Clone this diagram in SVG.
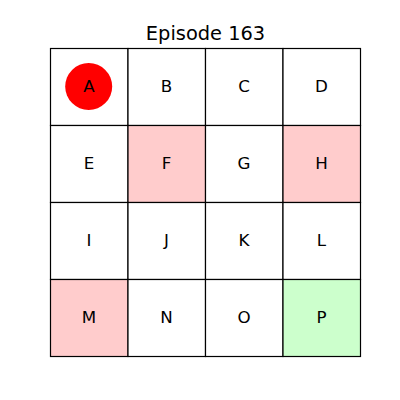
<svg xmlns="http://www.w3.org/2000/svg" width="400" height="400" viewBox="0 0 400 400">
<style>
.cell{stroke:#000;stroke-width:1.2;}
.w{fill:#fff}.r{fill:#ffcccc}.g{fill:#ccffcc}
.lbl{font-family:"DejaVu Sans",sans-serif;font-size:16.7px;text-anchor:middle;fill:#000}
.title{font-family:"DejaVu Sans",sans-serif;font-size:19.4px;text-anchor:middle;fill:#000}
</style>
<rect width="400" height="400" fill="#fff"/>
<text class="title" x="205.5" y="40">Episode 163</text>
<g id="A"><rect class="cell w" x="50.5" y="48.5" width="77.5" height="77"/><circle cx="88.7" cy="86.5" r="23.5" fill="#ff0000"/><text class="lbl" x="89" y="91.5">A</text></g>
<g id="B"><rect class="cell w" x="128" y="48.5" width="77.5" height="77"/><text class="lbl" x="166.5" y="91.5">B</text></g>
<g id="C"><rect class="cell w" x="205.5" y="48.5" width="77.5" height="77"/><text class="lbl" x="244" y="91.5">C</text></g>
<g id="D"><rect class="cell w" x="283" y="48.5" width="77.5" height="77"/><text class="lbl" x="321.5" y="91.5">D</text></g>
<g id="E"><rect class="cell w" x="50.5" y="125.5" width="77.5" height="77"/><text class="lbl" x="89" y="168.5">E</text></g>
<g id="F"><rect class="cell r" x="128" y="125.5" width="77.5" height="77"/><text class="lbl" x="166.5" y="168.5">F</text></g>
<g id="G"><rect class="cell w" x="205.5" y="125.5" width="77.5" height="77"/><text class="lbl" x="244" y="168.5">G</text></g>
<g id="H"><rect class="cell r" x="283" y="125.5" width="77.5" height="77"/><text class="lbl" x="321.5" y="168.5">H</text></g>
<g id="I"><rect class="cell w" x="50.5" y="202.5" width="77.5" height="77"/><text class="lbl" x="89" y="245.5">I</text></g>
<g id="J"><rect class="cell w" x="128" y="202.5" width="77.5" height="77"/><text class="lbl" x="166.5" y="245.5">J</text></g>
<g id="K"><rect class="cell w" x="205.5" y="202.5" width="77.5" height="77"/><text class="lbl" x="244" y="245.5">K</text></g>
<g id="L"><rect class="cell w" x="283" y="202.5" width="77.5" height="77"/><text class="lbl" x="321.5" y="245.5">L</text></g>
<g id="M"><rect class="cell r" x="50.5" y="279.5" width="77.5" height="77"/><text class="lbl" x="89" y="322.5">M</text></g>
<g id="N"><rect class="cell w" x="128" y="279.5" width="77.5" height="77"/><text class="lbl" x="166.5" y="322.5">N</text></g>
<g id="O"><rect class="cell w" x="205.5" y="279.5" width="77.5" height="77"/><text class="lbl" x="244" y="322.5">O</text></g>
<g id="P"><rect class="cell g" x="283" y="279.5" width="77.5" height="77"/><text class="lbl" x="321.5" y="322.5">P</text></g>
<g id="connectors"></g>
</svg>
